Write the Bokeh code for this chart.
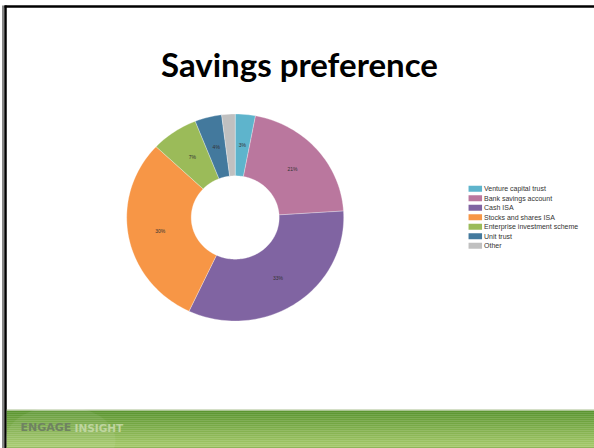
import math
from bokeh.plotting import figure
from bokeh.models import Range1d, ColumnDataSource
from bokeh.core.properties import value
from bokeh.embed import file_html
from bokeh.resources import INLINE

# ---- data ----
categories = ["Venture capital trust", "Bank savings account", "Cash ISA",
              "Stocks and shares ISA", "Enterprise investment scheme",
              "Unit trust", "Other"]
shares = [3, 21, 33, 30, 7, 4, 2]
slice_labels = ["3%", "21%", "33%", "30%", "7%", "4%", ""]
colors = ["#5eb4cc", "#ba779e", "#8064a2", "#f79646", "#9bbb59", "#43799d", "#c0c0c0"]
title_text = "Savings preference"

W, H = 594, 448
p = figure(width=W, height=H, output_backend="svg", toolbar_location=None,
           x_range=Range1d(0, W), y_range=Range1d(H, 0), min_border=0,
           background_fill_color="white", border_fill_color="white",
           outline_line_color=None)
p.axis.visible = False
p.grid.visible = False

# slide border (top & left)
p.line(x=[2.5, 2.5], y=[5, H], line_color="#888888", line_width=2)
p.line(x=[5, 5], y=[5, H], line_color="black", line_width=2.5)
p.line(x=[4, W], y=[6, 6], line_color="black", line_width=2.5)

# footer gradient bar
top_c = (0x5b, 0x95, 0x30)
bot_c = (0xa6, 0xca, 0x6a)
n = 19
y0, y1 = 410.0, 448.0
qs = dict(left=[], right=[], top=[], bottom=[], color=[])
for i in range(n):
    t = i / (n - 1)
    c = tuple(int(round(a + (b - a) * t)) for a, b in zip(top_c, bot_c))
    qs["left"].append(6.2)
    qs["right"].append(W)
    qs["top"].append(y0 + (y1 - y0) * i / n)
    qs["bottom"].append(y0 + (y1 - y0) * (i + 1) / n + 0.3)
    qs["color"].append("#%02x%02x%02x" % c)
p.quad(source=ColumnDataSource(qs), left="left", right="right", top="top",
       bottom="bottom", fill_color="color", line_color=None)
p.line(x=[6.2, W], y=[409.5, 409.5], line_color="#a9c08f", line_width=1.2)
p.line(x=[6.2, W], y=[447, 447], line_color="#8fb45a", line_width=1.2)
p.ellipse(x=[60], y=[440], width=[110], height=[70], fill_color="#ffffff",
          fill_alpha=0.07, line_color=None)

# logo
p.text(x=[20], y=[427], text=["ENGAGE"], text_font=value("DejaVu Sans"),
       text_font_style="bold", text_font_size="11px", text_color="#6f8262",
       text_baseline="middle", text_align="left")
p.text(x=[74], y=[427], text=["INSIGHT"], text_font=value("DejaVu Sans"),
       text_font_style="bold", text_font_size="10.5px", text_color="#bfd59f",
       text_baseline="middle", text_align="left")

# title
p.text(x=[299], y=[63.5], text=[title_text], text_font=value("Lato"),
       text_font_style="bold", text_font_size="33px", text_color="#000000",
       text_baseline="middle", text_align="center")

# donut
cx, cy = 234.7, 217.0
rxo, ryo = 108.5, 103.5
rxi, ryi = 44.0, 41.7
total = float(sum(shares))
xs, ys, lx, ly = [], [], [], []
cum = 0.0
for s in shares:
    a0 = cum / total * 2 * math.pi
    cum += s
    a1 = cum / total * 2 * math.pi
    steps = max(4, int(s * 2))
    px, py = [], []
    for k in range(steps + 1):
        a = a0 + (a1 - a0) * k / steps
        px.append(cx + rxo * math.sin(a))
        py.append(cy - ryo * math.cos(a))
    for k in range(steps, -1, -1):
        a = a0 + (a1 - a0) * k / steps
        px.append(cx + rxi * math.sin(a))
        py.append(cy - ryi * math.cos(a))
    xs.append(px)
    ys.append(py)
    am = (a0 + a1) / 2
    lx.append(cx + (rxo + rxi) / 2 * math.sin(am))
    ly.append(cy - (ryo + ryi) / 2 * math.cos(am))

p.patches(xs=xs, ys=ys, fill_color=colors, line_color="white",
          line_alpha=0.5, line_width=0.6)
p.text(x=lx, y=ly, text=slice_labels, text_font=value("Liberation Sans"),
       text_font_size="5px", text_color="#333333", text_align="center",
       text_baseline="middle")

# legend
leg_y = [188.3 + 9.5 * i for i in range(len(categories))]
p.rect(x=[474.8] * len(categories), y=leg_y, width=13.5, height=6,
       fill_color=colors, line_color=None)
p.text(x=[483.5] * len(categories), y=leg_y, text=categories,
       text_font=value("Liberation Sans"), text_font_size="7px",
       text_color="#333333", text_align="left", text_baseline="middle")

open("out.html", "w").write(file_html(p, INLINE))
